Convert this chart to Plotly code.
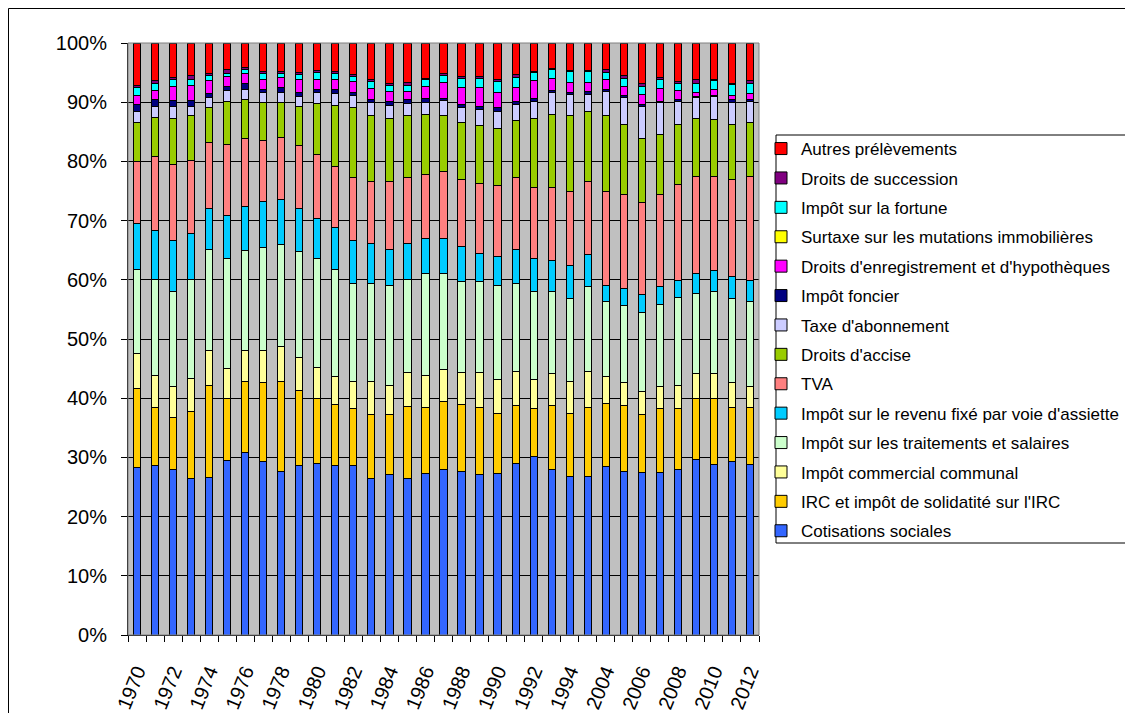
import plotly.graph_objects as go

years = ["1970","1971","1972","1973","1974","1975","1976","1977","1978","1979",
         "1980","1981","1982","1983","1984","1985","1986","1987","1988","1989",
         "1990","1991","1992","1993","1994","1995",
         "2004","2005","2006","2007","2008","2009","2010","2011","2012"]
tick_labels = [y if i % 2 == 0 else "" for i, y in enumerate(years)]

cotisations = [28.3,28.6,28.0,26.4,26.6,29.4,30.9,29.3,27.6,28.6,
               29.0,28.6,28.6,26.4,27.1,26.4,27.3,28.0,27.6,27.1,
               27.3,29.0,30.2,27.9,26.7,26.7,
               28.5,27.6,27.4,27.4,28.0,29.7,28.8,29.3,28.8]
irc = [13.4,9.8,8.8,11.3,15.6,10.6,12.0,13.4,15.3,12.7,
       11.0,10.3,9.6,10.8,10.1,12.2,11.1,11.4,11.3,11.3,
       10.1,9.7,8.0,10.8,10.7,11.7,
       10.6,11.1,9.8,10.8,10.2,10.3,11.2,9.2,9.7]
icc = [5.9,5.5,5.2,5.7,5.9,5.1,5.2,5.4,5.9,5.6,
       5.2,4.7,4.7,5.7,5.0,5.8,5.5,5.4,5.5,6.0,
       5.8,5.8,5.0,5.4,5.5,6.1,
       4.5,4.0,3.9,3.8,4.0,4.2,4.1,4.2,3.5]
salaires = [14.1,16.2,16.0,16.7,17.1,18.5,16.9,17.4,17.1,17.9,
            18.4,18.2,16.4,16.4,16.9,15.6,17.1,16.3,15.3,15.3,
            15.9,14.8,14.8,13.9,13.9,14.4,
            12.8,13.0,13.3,13.8,14.8,13.5,13.9,14.1,14.4]
assiette = [7.8,8.2,8.7,7.7,6.9,7.3,7.4,7.8,7.6,7.3,
            6.8,7.0,7.4,6.9,6.1,6.2,6.0,5.9,5.9,4.8,
            4.8,5.9,5.6,5.3,5.7,5.4,
            2.7,2.9,3.1,3.1,2.8,3.4,3.5,3.7,3.5]
tva = [10.4,12.5,12.7,12.3,11.1,12.0,11.4,10.3,10.6,10.6,
       10.7,10.4,10.6,10.4,11.4,11.1,10.8,11.3,11.4,11.8,
       12.0,12.0,12.0,12.3,12.4,12.3,
       15.8,15.8,15.5,15.5,16.3,16.4,16.0,16.4,17.6]
accise = [6.6,6.6,7.9,7.6,5.9,7.3,6.6,6.4,5.9,6.6,
          8.6,10.3,11.8,11.2,10.7,10.4,10.1,9.5,9.5,9.7,
          9.6,9.7,11.7,12.3,12.8,11.8,
          12.8,11.8,10.8,10.2,10.1,9.7,9.5,9.3,9.0]
abonnement = [1.9,1.9,1.9,1.5,1.7,1.7,1.8,1.7,1.7,1.7,
              1.9,1.9,2.0,2.2,2.2,2.0,2.1,2.5,2.6,2.7,
              3.0,2.7,2.9,3.8,3.6,2.9,
              4.1,4.6,5.5,5.4,4.0,3.6,3.9,3.8,3.7]
foncier = [1.2,1.2,1.1,1.1,0.7,0.8,0.9,0.5,0.7,0.7,
           0.6,0.7,0.5,0.5,0.6,0.7,0.7,0.4,0.5,0.5,
           0.6,0.5,0.5,0.2,0.4,0.5,
           0.4,0.3,0.3,0.1,0.3,0.2,0.3,0.4,0.3]
enregistrement = [1.5,1.4,2.3,2.5,2.1,1.6,1.7,1.7,1.7,2.1,
                  1.7,1.7,1.9,1.8,1.7,1.4,1.9,2.7,2.9,3.2,
                  2.6,2.4,2.9,2.1,1.7,1.6,
                  1.6,1.5,1.7,2.2,1.4,0.7,0.9,0.8,0.9]
surtaxe = [0.0,0.0,0.0,0.0,0.0,0.0,0.0,0.0,0.0,0.0,
           0.0,0.0,0.0,0.0,0.0,0.0,0.0,0.0,0.0,0.0,
           0.0,0.0,0.0,0.0,0.0,0.0,
           0.0,0.0,0.0,0.0,0.0,0.0,0.0,0.0,0.0]
fortune = [1.4,1.3,1.2,1.0,0.9,0.6,0.8,0.9,0.8,0.8,
           1.1,1.1,0.8,1.2,1.1,1.1,1.3,1.1,1.5,1.6,
           1.8,1.7,1.5,1.6,1.8,1.8,
           1.2,1.4,1.4,1.5,1.2,1.5,1.5,1.8,1.8]
succession = [0.3,0.4,0.3,0.7,0.4,0.6,0.3,0.4,0.3,0.4,
              0.3,0.3,0.4,0.3,0.2,0.5,0.1,0.3,0.4,0.4,
              0.3,0.5,0.1,0.1,0.1,0.1,
              0.6,0.5,0.4,0.4,0.4,0.6,0.3,0.2,0.4]
autres = [7.2,6.4,5.9,5.5,5.1,4.5,4.1,4.8,4.8,5.0,
          4.7,4.8,5.3,6.2,6.9,6.6,6.0,5.2,5.6,5.6,
          6.2,5.3,4.8,4.3,4.7,4.7,
          4.4,5.5,6.9,5.8,6.5,6.2,6.1,6.8,6.4]

series = [
    ("Cotisations sociales", cotisations, "#3366FF"),
    ("IRC et impôt de solidatité sur l'IRC", irc, "#FFCC00"),
    ("Impôt commercial communal", icc, "#FFFF99"),
    ("Impôt sur les traitements et salaires", salaires, "#CCFFCC"),
    ("Impôt sur le revenu fixé par voie d'assiette", assiette, "#00CCFF"),
    ("TVA", tva, "#FF8080"),
    ("Droits d'accise", accise, "#99CC00"),
    ("Taxe d'abonnement", abonnement, "#CCCCFF"),
    ("Impôt foncier", foncier, "#000080"),
    ("Droits d'enregistrement et d'hypothèques", enregistrement, "#FF00FF"),
    ("Surtaxe sur les mutations immobilières", surtaxe, "#FFFF00"),
    ("Impôt sur la fortune", fortune, "#00FFFF"),
    ("Droits de succession", succession, "#800080"),
    ("Autres prélèvements", autres, "#FF0000"),
]

# the page adds an 8px body margin; positions below are in figure pixels
W, H = 1117, 705
L, R, T, B = 120, 751, 35, 627  # plot area in figure pixels
pw, ph = R - L, B - T

def px(x):
    return (x - L) / pw

def py(y):
    return (B - y) / ph

fig = go.Figure()
n = len(series)
for i, (name, vals, col) in enumerate(series):
    fig.add_trace(go.Bar(
        x=years, y=vals, name=name, legendgroup=str(i), legendrank=100 + (n - i),
        marker=dict(color=col, line=dict(color="black", width=1)),
    ))

FONT = "Arial, 'Liberation Sans', sans-serif"
fig.update_layout(
    width=W, height=H, autosize=False,
    margin=dict(l=L, r=W - R, t=T, b=H - B, pad=0, autoexpand=False),
    barmode="stack", barnorm="percent", bargap=0.6,
    paper_bgcolor="white", plot_bgcolor="#C0C0C0",
    font=dict(family=FONT, size=19, color="black"),
    showlegend=True,
    legend=dict(
        x=px(753), y=py(123), xanchor="left", yanchor="top",
        traceorder="grouped", tracegroupgap=4.3,
        font=dict(family=FONT, size=17, color="black"),
        bgcolor="rgba(0,0,0,0)", borderwidth=0,
        itemclick=False, itemdoubleclick=False,
    ),
    xaxis=dict(
        type="category", tickmode="array", tickvals=years, ticktext=tick_labels,
        tickangle=-68, tickson="boundaries", ticks="outside", ticklen=6,
        tickcolor="black", showline=True, linecolor="black", linewidth=1,
        showgrid=False, tickfont=dict(family=FONT, size=20),
        ticklabelstandoff=16, automargin=False,
    ),
    yaxis=dict(
        range=[0, 100], dtick=10, ticksuffix="%", ticks="outside", ticklen=6,
        tickcolor="black", showline=True, linecolor="black", linewidth=1,
        showgrid=True, gridcolor="black", gridwidth=1, zeroline=False,
        tickfont=dict(family=FONT, size=20), ticklabelstandoff=10, automargin=False,
    ),
    shapes=[
        dict(type="rect", xref="paper", yref="paper", x0=0, y0=0, x1=1, y1=1,
             line=dict(color="#808080", width=1), layer="above"),
        dict(type="rect", xref="paper", yref="paper",
             x0=px(768), y0=py(535), x1=px(1145), y1=py(127),
             line=dict(color="black", width=1), fillcolor="rgba(0,0,0,0)"),
        dict(type="rect", xref="paper", yref="paper",
             x0=px(0.5), y0=py(740), x1=px(1150), y1=py(0.5),
             line=dict(color="black", width=1), fillcolor="rgba(0,0,0,0)"),
    ],
)

fig.write_html("out.html")
